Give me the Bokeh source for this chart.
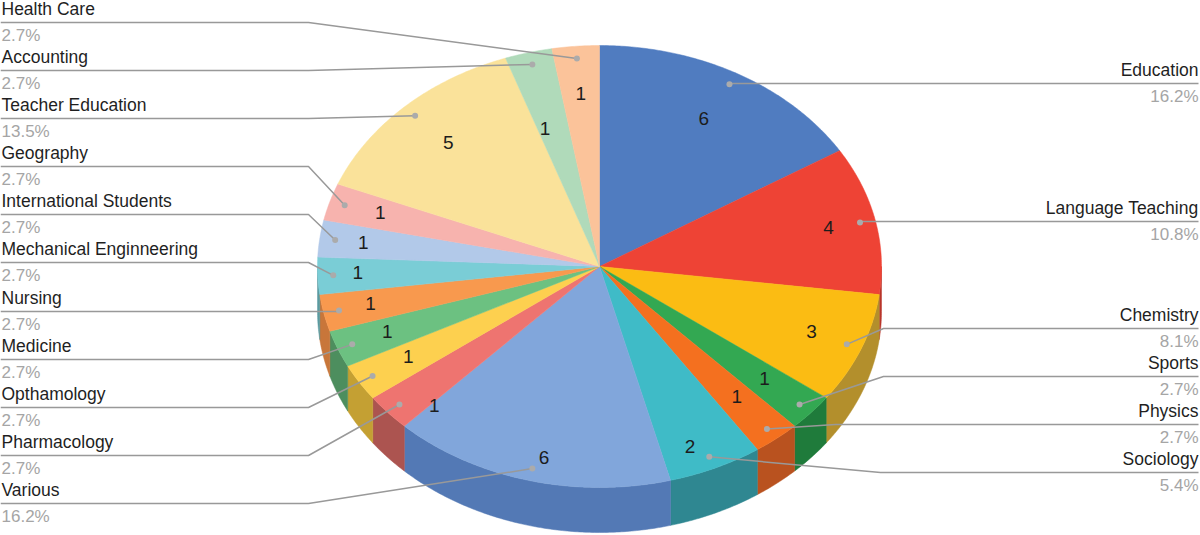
import math
from bokeh.plotting import figure
from bokeh.models import Range1d, ColumnDataSource
from bokeh.core.properties import value
from bokeh.embed import file_html
from bokeh.resources import INLINE

# ---- data (clockwise from 12 o'clock) ----
categories = ["Education", "Language Teaching", "Chemistry", "Sports", "Physics", "Sociology",
              "Various", "Pharmacology", "Opthamology", "Medicine", "Nursing",
              "Mechanical Enginneering", "International Students", "Geography",
              "Teacher Education", "Accounting", "Health Care"]
counts = [6, 4, 3, 1, 1, 2, 6, 1, 1, 1, 1, 1, 1, 1, 5, 1, 1]
percents = ["16.2%", "10.8%", "8.1%", "2.7%", "2.7%", "5.4%", "16.2%", "2.7%", "2.7%",
            "2.7%", "2.7%", "2.7%", "2.7%", "2.7%", "13.5%", "2.7%", "2.7%"]

# ---- style ----
top_colors = ["#507CC0", "#EE4335", "#FBBC13", "#33A852", "#F4701F", "#3FBBC7", "#81A6DB", "#EE7470",
              "#FDD04F", "#6CC181", "#F8994E", "#7ACDD6", "#B2C9E9", "#F7B3AE", "#FAE29A", "#B0DABA", "#FBC39A"]
side_colors = ["#3E6096", "#B8352A", "#B38F2C", "#1F7B3B", "#B9521F", "#2F8791", "#5379B5", "#AC5450",
               "#C4A033", "#4D8E5E", "#C8763A", "#5A9AA0", "#8AA0BC", "#C08E8A", "#C4B27A", "#8AAD92", "#C49A7A"]

# ---- layout (reference pixel space) ----
CX, CY, RX, RY, DEPTH = 599, 266, 282, 221, 45
DOT_R, NUM_R = 0.945, 0.78
label_nudge = [(-3, 4), (14, -1), (8, 2), (0, 0), (-1, -3), (0, 24), (0, 26), (0, 27), (-4, 1),
               (-8, 2), (-14, 2), (-22, 0), (-18, -1), (-9, -2), (1, 2), (1, 30), (0, 0)]
rule_y = [83, 221, 328, 376, 424, 472, 503, 455, 407, 359, 311, 262, 214, 166, 118, 70, 22]
elbow_x = [None, None, 883, 883, 835, 880, 308, 308, 308, 308, 308, 308, 308, 308, 308, 308, 308]
RIGHT_X, LEFT_X = 1198, 1

def pt(deg, r=1.0, dy=0):
    t = math.radians(deg)
    return CX + RX * r * math.sin(t), CY - RY * r * math.cos(t) + dy

total = sum(counts)
starts, cum = [], 0
for c in counts:
    starts.append(cum / total * 360)
    cum += c
ends = starts[1:] + [360.0]

p = figure(width=1200, height=535, output_backend="svg", toolbar_location=None,
           x_range=Range1d(0, 1200), y_range=Range1d(535, 0), min_border=0)
p.axis.visible = False
p.grid.visible = False
p.outline_line_color = None
p.background_fill_color = "white"
p.border_fill_color = "white"

# side walls
sx, sy, sc = [], [], []
for a, b, col in zip(starts, ends, side_colors):
    lo, hi = max(a, 90), min(b, 270)
    if hi <= lo:
        continue
    n = max(2, int((hi - lo) * 2))
    ang = [lo + (hi - lo) * i / n for i in range(n + 1)]
    upper = [pt(d) for d in ang]
    lower = [pt(d, dy=DEPTH) for d in reversed(ang)]
    poly = upper + lower
    sx.append([q[0] for q in poly]); sy.append([q[1] for q in poly]); sc.append(col)
p.patches(sx, sy, fill_color=sc, line_color=sc, line_width=0.5)

# top faces
fx, fy = [], []
for a, b in zip(starts, ends):
    n = max(2, int((b - a) * 2))
    poly = [(CX, CY)] + [pt(a + (b - a) * i / n) for i in range(n + 1)]
    fx.append([q[0] for q in poly]); fy.append([q[1] for q in poly])
p.patches(fx, fy, fill_color=top_colors, line_color=top_colors, line_width=0.5)

# leaders, labels
mids = [(a + b) / 2 for a, b in zip(starts, ends)]
dots = [pt(m, DOT_R) for m in mids]
lx, ly = [], []
tx, talign = [], []
for (dx, dy), ry, ex, m in zip(dots, rule_y, elbow_x, mids):
    right = m < 180
    end = RIGHT_X if right else 0
    if ex is None or abs(dy - ry) < 2:
        lx.append([dx, end]); ly.append([ry, ry])
    else:
        lx.append([dx, ex, end]); ly.append([dy, ry, ry])
    tx.append(RIGHT_X if right else LEFT_X)
    talign.append("right" if right else "left")
p.multi_line(lx, ly, line_color="#999999", line_width=1.5)
p.scatter([d[0] for d in dots], [d[1] for d in dots], size=6, fill_color="#ABABAB", line_color=None)

font = value("Liberation Sans")
src = ColumnDataSource(dict(x=tx, name_y=[y - 14 for y in rule_y], pct_y=[y + 13 for y in rule_y],
                            name=categories, pct=percents, align=talign))
p.text("x", "name_y", text="name", text_align="align", source=src, text_font=font,
       text_font_size="17.5px", text_font_style="normal", text_color="#1F1F1F",
       text_baseline="alphabetic")
p.text("x", "pct_y", text="pct", text_align="align", source=src, text_font=font,
       text_font_size="17px", text_color="#A5A5A5", text_baseline="alphabetic")

nums = [pt(m, NUM_R) for m in mids]
p.text([n[0] + o[0] for n, o in zip(nums, label_nudge)],
       [n[1] + o[1] - 1.5 for n, o in zip(nums, label_nudge)],
       text=[str(c) for c in counts], text_align="center", text_baseline="middle",
       text_font=font, text_font_size="19px", text_color="#1C1C1C")

open("out.html", "w").write(file_html(p, INLINE))
